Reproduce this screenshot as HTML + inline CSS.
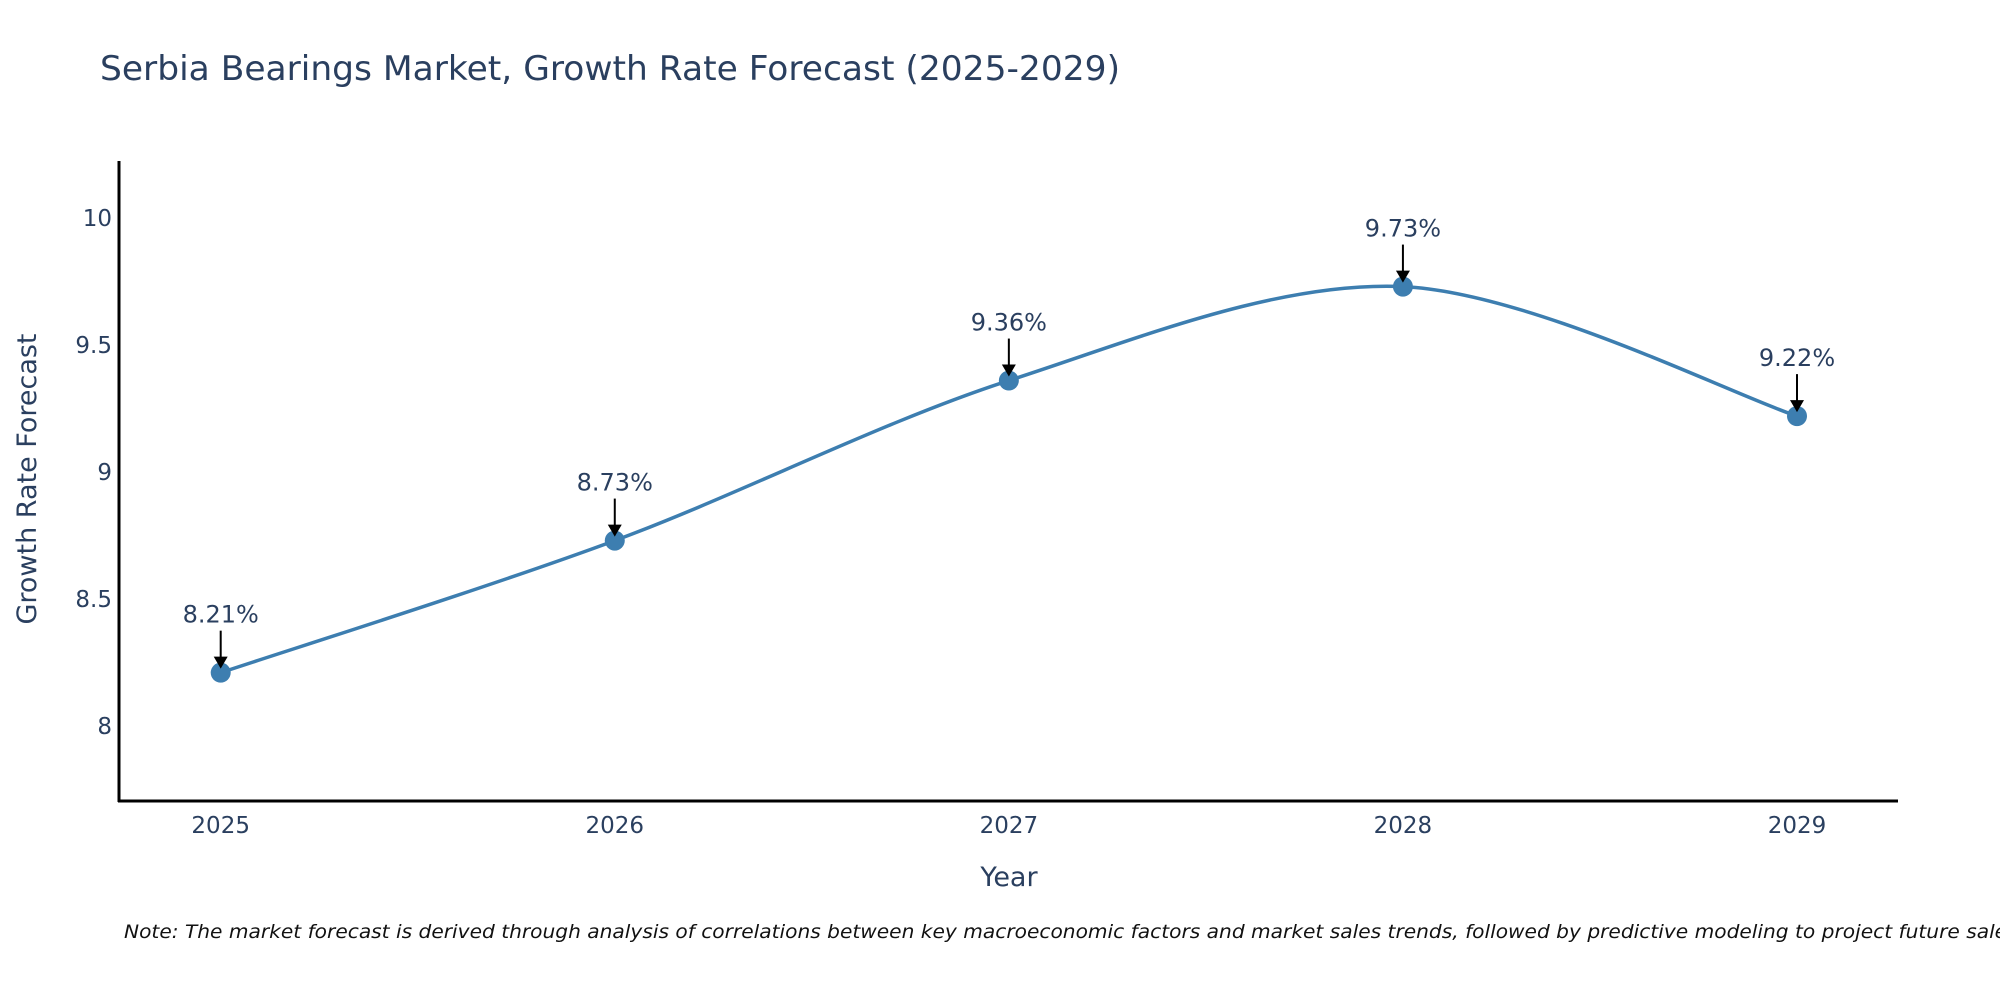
<!DOCTYPE html>
<html><head><meta charset="utf-8"><style>html,body{margin:0;padding:0;background:#fff}svg{display:block}text{font-family:"DejaVu Sans","Liberation Sans",sans-serif;fill:#2a3f5f}</style></head>
<body>
<svg id="chart" width="2000" height="1000" xmlns="http://www.w3.org/2000/svg">
<rect width="2000" height="1000" fill="#fff"/>
<text x="100" y="80" font-size="34" textLength="1020" lengthAdjust="spacingAndGlyphs">Serbia Bearings Market, Growth Rate Forecast (2025-2029)</text>
<line x1="119" y1="161" x2="119" y2="802" stroke="#000" stroke-width="3"/>
<line x1="118" y1="801" x2="1898" y2="801" stroke="#000" stroke-width="3"/>
<g id="ticks"></g>
<path id="line" fill="none" stroke="#3d7eb0" stroke-width="3.5"/>
<g id="marks"></g>
<text transform="translate(36,479) rotate(-90)" text-anchor="middle" font-size="27">Growth Rate Forecast</text>
<text x="1009" y="886" text-anchor="middle" font-size="27">Year</text>
<text x="124" y="938" font-size="19" font-style="italic" style="fill:#111" textLength="1900" lengthAdjust="spacingAndGlyphs">Note: The market forecast is derived through analysis of correlations between key macroeconomic factors and market sales trends, followed by predictive modeling to project future sales.</text>
</svg>
<script>
const years = ["2025","2026","2027","2028","2029"];
const values = [8.21, 8.73, 9.36, 9.73, 9.22];
const yTicks = [8, 8.5, 9, 9.5, 10];
const yTickLabels = ["8","8.5","9","9.5","10"];
const NS = "http://www.w3.org/2000/svg";
const x = i => 220.7 + i * (1797 - 220.7) / (years.length - 1);
const y = v => 218 + (10 - v) * 254;
function mk(tag, attrs, parent) { const e = document.createElementNS(NS, tag); for (const k in attrs) e.setAttribute(k, attrs[k]); parent.appendChild(e); return e; }
const ticks = document.getElementById('ticks');
yTicks.forEach((t, i) => {
  const e = mk('text', {x: 112, y: y(t) + 8, 'text-anchor': 'end', 'font-size': 23}, ticks);
  
  
  e.textContent = yTickLabels[i];
});
years.forEach((yr, i) => {
  const e = mk('text', {x: x(i), y: 833, 'text-anchor': 'middle', 'font-size': 23}, ticks);
  
  
  e.textContent = yr;
});
const pts = values.map((v, i) => [x(i), y(v)]);
let d = `M${pts[0][0]},${pts[0][1]}`;
const s = 0.16;
for (let i = 0; i < pts.length - 1; i++) {
  const p0 = pts[Math.max(0, i - 1)], p1 = pts[i], p2 = pts[i + 1], p3 = pts[Math.min(pts.length - 1, i + 2)];
  const c1 = [p1[0] + (p2[0] - p0[0]) * s, p1[1] + (p2[1] - p0[1]) * s];
  const c2 = [p2[0] - (p3[0] - p1[0]) * s, p2[1] - (p3[1] - p1[1]) * s];
  d += ` C${c1[0]},${c1[1]} ${c2[0]},${c2[1]} ${p2[0]},${p2[1]}`;
}
document.getElementById('line').setAttribute('d', d);
const marks = document.getElementById('marks');
values.forEach((v, i) => {
  const c = mk('circle', {cx: x(i), cy: y(v), r: 10, fill: '#3d7eb0'}, marks);
  
  
  const l = mk('line', {x1: x(i), y1: y(v) - 42, x2: x(i), y2: y(v) - 14, stroke: '#000', 'stroke-width': 2}, marks);
  
  
  const h = mk('path', {d: `M${x(i)-7},${y(v)-16} L${x(i)+7},${y(v)-16} L${x(i)},${y(v)-4} Z`, fill: '#000'}, marks);
  
  
  const t = mk('text', {x: x(i), y: y(v) - 50, 'text-anchor': 'middle', 'font-size': 24}, marks);
  
  
  t.textContent = v.toFixed(2) + '%';
});
</script>
</body></html>
